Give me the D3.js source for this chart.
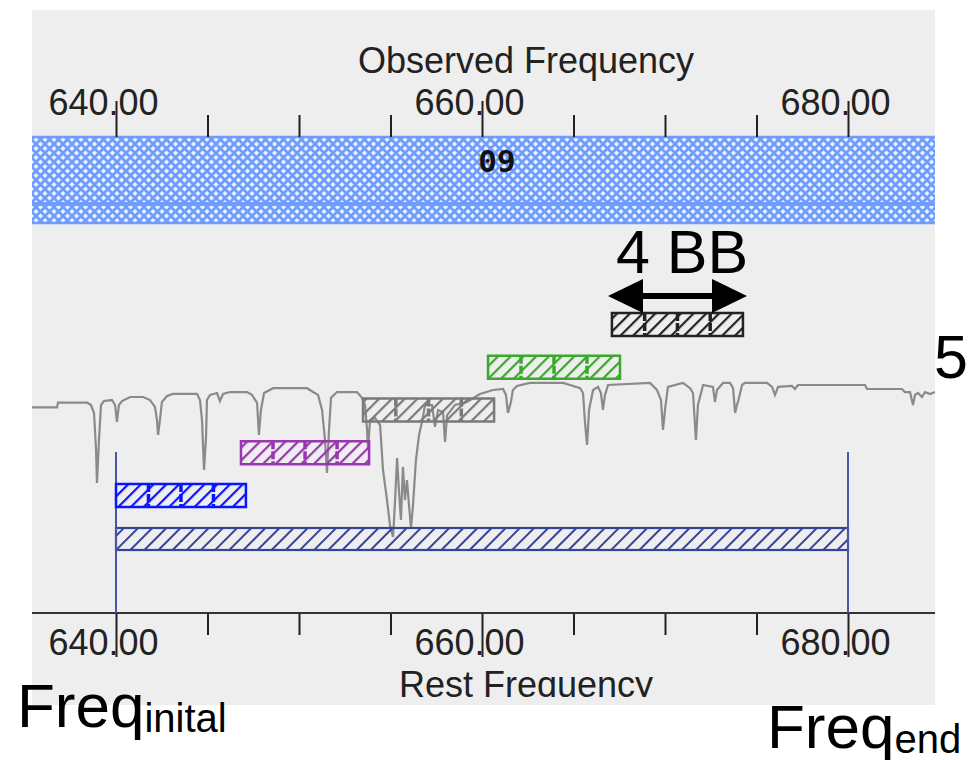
<!DOCTYPE html>
<html>
<head>
<meta charset="utf-8">
<script src="https://cdn.jsdelivr.net/npm/d3@7"></script>
<style>
body { margin: 0; background: #fff; }
svg { display: block; }
.axis-text { font-family: "Liberation Sans", Arial, sans-serif; font-size: 36px; fill: #222; }
.big-text { font-family: "Liberation Sans", Arial, sans-serif; fill: #000; }
</style>
</head>
<body>
<svg id="chart" width="970" height="760"></svg>
<script>
// atmospheric transmission spectrum (rest frequency, GHz / relative transmission)
var specFreq = [635.41, 636.78, 636.83, 638.42, 638.63, 638.80, 638.91, 638.96, 639.07, 639.18,
    639.34, 639.78, 639.95, 640.05, 640.16, 640.33, 640.77, 641.48, 641.86, 642.13,
    642.24, 642.30, 642.40, 642.51, 642.79, 643.11, 644.43, 644.59, 644.70, 644.81,
    644.92, 644.97, 645.14, 645.52, 645.68, 645.85, 646.23, 647.16, 647.43, 647.71,
    647.81, 647.92, 648.09, 648.58, 650.44, 650.77, 651.04, 651.26, 651.42, 651.53,
    651.64, 651.75, 652.08, 653.17, 653.44, 653.61, 653.72, 653.77, 653.88, 654.15,
    654.43, 654.59, 654.81, 654.97, 655.14, 655.25, 655.36, 655.46, 655.57, 655.68,
    655.79, 655.90, 656.01, 656.12, 656.23, 656.39, 656.56, 656.72, 656.89, 657.27,
    657.43, 657.60, 657.87, 657.98, 658.09, 658.52, 659.18, 659.89, 660.60, 661.15,
    661.31, 661.42, 661.58, 661.69, 661.91, 662.62, 664.43, 664.81, 665.36, 665.52,
    665.63, 665.74, 665.85, 666.07, 666.34, 666.50, 666.61, 666.72, 666.89, 669.18,
    669.56, 669.78, 669.89, 670.00, 670.16, 670.98, 671.37, 671.53, 671.69, 671.80,
    672.08, 672.62, 672.73, 672.84, 673.17, 673.55, 673.72, 673.83, 673.93, 673.99,
    674.21, 674.37, 675.57, 675.85, 676.01, 676.18, 676.94, 677.10, 677.27, 680.93,
    681.04, 682.95, 683.11, 683.39, 683.55, 683.66, 683.83, 684.04, 684.21, 684.48,
    684.75];
var specValue = [0.86, 0.86, 0.89, 0.89, 0.875, 0.825, 0.594, 0.388, 0.656, 0.875,
    0.90, 0.906, 0.875, 0.769, 0.875, 0.90, 0.925, 0.925, 0.906, 0.863,
    0.78, 0.688, 0.78, 0.894, 0.931, 0.944, 0.944, 0.906, 0.78, 0.469,
    0.675, 0.906, 0.938, 0.95, 0.90, 0.944, 0.956, 0.956, 0.938, 0.888,
    0.688, 0.844, 0.95, 0.98, 0.98, 0.956, 0.938, 0.844, 0.656, 0.45,
    0.72, 0.92, 0.956, 0.956, 0.92, 0.875, 0.72, 0.594, 0.78, 0.794,
    0.75, 0.469, 0.281, 0.125, 0.05, 0.281, 0.544, 0.344, 0.156, 0.488,
    0.281, 0.406, 0.25, 0.106, 0.25, 0.531, 0.688, 0.769, 0.875, 0.875,
    0.738, 0.844, 0.83, 0.644, 0.81, 0.875, 0.894, 0.944, 0.969, 0.975,
    0.938, 0.825, 0.894, 0.969, 0.994, 1.013, 1.013, 1.0, 0.98, 0.95,
    0.763, 0.625, 0.844, 0.969, 0.988, 0.95, 0.844, 0.938, 1.0, 1.013,
    0.969, 0.906, 0.72, 0.844, 0.988, 1.013, 0.98, 0.95, 0.656, 0.875,
    1.0, 0.988, 0.894, 0.969, 1.013, 1.013, 0.98, 0.825, 0.875, 0.894,
    1.0, 1.013, 1.013, 0.988, 0.938, 0.988, 0.994, 0.975, 1.0, 1.0,
    0.975, 0.975, 0.956, 0.956, 0.875, 0.938, 0.95, 0.925, 0.956, 0.944,
    0.956];

// spectral windows (basebands), one per row
var bbStart = [640.00, 646.83, 653.50, 660.33, 667.10];
var bbEnd   = [647.10, 653.83, 660.66, 667.54, 674.26];
var bbColors = ["#0a14ff", "#9a35b0", "#7a7a7a", "#3aa82a", "#222222"];
var bbChannels = 4;

// full tuning range
var rangeStart = 640;
var rangeEnd = 680;

var tickValues = [640, 645, 650, 655, 660, 665, 670, 675, 680];
var bandLabel = "09";

var svg = d3.select("#chart");
var panel = {left: 32, right: 935, top: 10, bottom: 705};

var x = d3.scaleLinear().domain([640, 680]).range([116, 848]);
var ySpec = d3.scaleLinear().domain([0, 1]).range([545, 385]);
var yRow = d3.scaleLinear().domain([0, 4]).range([484, 313]);
var rowH = 23;

var defs = svg.append("defs");

// cross hatch for the observing band
var cross = defs.append("pattern")
    .attr("id", "cross")
    .attr("patternUnits", "userSpaceOnUse")
    .attr("width", 9).attr("height", 9);
cross.append("rect").attr("width", 9).attr("height", 9).attr("fill", "#eef2fc");
cross.append("path")
    .attr("d", "M0,0 L9,9 M9,0 L0,9")
    .attr("stroke", "#6f9dff")
    .attr("stroke-width", 2.8);

function hatch(id, color, gap, w) {
    var p = defs.append("pattern")
        .attr("id", id)
        .attr("patternUnits", "userSpaceOnUse")
        .attr("width", gap).attr("height", gap)
        .attr("patternTransform", "rotate(45)");
    p.append("line")
        .attr("x1", 1).attr("y1", 0)
        .attr("x2", 1).attr("y2", gap)
        .attr("stroke", color)
        .attr("stroke-width", w);
}
bbColors.forEach(function (c, i) { hatch("hatch" + i, c, 9, 2.4); });
hatch("hatchBase", "#33449a", 10, 2);

// background panel
svg.append("rect")
    .attr("x", panel.left).attr("y", panel.top)
    .attr("width", panel.right - panel.left)
    .attr("height", panel.bottom - panel.top)
    .attr("fill", "#eeeeee");

// observing band
svg.append("rect")
    .attr("x", panel.left).attr("y", 137)
    .attr("width", panel.right - panel.left).attr("height", 87)
    .attr("fill", "url(#cross)");
[137, 204, 223].forEach(function (yy, i) {
    svg.append("line")
        .attr("x1", panel.left).attr("x2", panel.right)
        .attr("y1", yy).attr("y2", yy)
        .attr("stroke", "#6f9dff")
        .attr("stroke-width", i === 1 ? 4 : 2.5);
});
svg.append("text")
    .attr("x", 497).attr("y", 172)
    .style("text-anchor", "middle")
    .style("font-family", "'DejaVu Sans Mono', monospace")
    .style("font-weight", "bold")
    .style("font-size", "31px")
    .attr("fill", "#111")
    .text(bandLabel);

// top axis
var topAxis = svg.append("g")
    .attr("transform", "translate(0,137)")
    .call(d3.axisTop(x).tickValues(tickValues).tickSize(22)
        .tickFormat(function (d) { return d % 20 === 0 ? d3.format(".2f")(d) : ""; }));
topAxis.select(".domain").remove();

// bottom axis
var botAxis = svg.append("g")
    .attr("transform", "translate(0,613)")
    .call(d3.axisBottom(x).tickValues(tickValues).tickSize(22)
        .tickFormat(function (d) { return d % 20 === 0 ? d3.format(".2f")(d) : ""; }));
botAxis.select(".domain").remove();
svg.append("line")
    .attr("x1", panel.left).attr("x2", panel.right)
    .attr("y1", 613).attr("y2", 613)
    .attr("stroke", "#333").attr("stroke-width", 2);

function styleAxis(g, dir) {
    g.selectAll(".tick line")
        .attr("stroke", "#222").attr("stroke-width", 2)
        .attr("y2", function (d) { return d % 20 === 0 ? dir * (dir < 0 ? 36 : 44) : dir * 22; });
    g.selectAll(".tick text")
        .attr("class", "axis-text")
        .attr("dy", 0)
        .attr("y", dir < 0 ? -22 : 42)
        .style("text-anchor", "start")
        .attr("x", function () {
            var s = this.textContent;
            var i = s.indexOf(".");
            if (i < 0) return 0;
            var before = this.getSubStringLength(0, i);
            var dot = this.getSubStringLength(i, 1);
            return -(before + dot / 2) - 3;
        });
}
styleAxis(topAxis, -1);
styleAxis(botAxis, 1);

svg.append("text")
    .attr("class", "axis-text")
    .attr("x", 526).attr("y", 73)
    .style("text-anchor", "middle")
    .text("Observed Frequency");

defs.append("clipPath").attr("id", "clipBottom")
    .append("rect").attr("x", 0).attr("y", 0).attr("width", 970).attr("height", 697);
svg.append("text")
    .attr("class", "axis-text")
    .attr("x", 526).attr("y", 697)
    .attr("clip-path", "url(#clipBottom)")
    .style("text-anchor", "middle")
    .text("Rest Frequency");

// spectrum
var specData = specFreq.map(function (f, i) { return {f: f, v: specValue[i]}; });
svg.append("path")
    .datum(specData)
    .attr("fill", "none")
    .attr("stroke", "#8a8a8a")
    .attr("stroke-width", 2.2)
    .attr("d", d3.line()
        .x(function (d) { return x(d.f); })
        .y(function (d) { return ySpec(d.v); }));

// tuning range
svg.append("rect")
    .attr("x", x(rangeStart)).attr("y", 528)
    .attr("width", x(rangeEnd) - x(rangeStart)).attr("height", 22)
    .attr("fill", "url(#hatchBase)")
    .attr("stroke", "#33449a").attr("stroke-width", 2.2);
[rangeStart, rangeEnd].forEach(function (f) {
    svg.append("line")
        .attr("x1", x(f)).attr("x2", x(f))
        .attr("y1", 452).attr("y2", 613)
        .attr("stroke", "#4a55a8").attr("stroke-width", 2);
});

// spectral windows
bbStart.forEach(function (s, i) {
    var e = bbEnd[i];
    var g = svg.append("g");
    g.append("rect")
        .attr("x", x(s)).attr("y", yRow(i))
        .attr("width", x(e) - x(s)).attr("height", rowH)
        .attr("fill", "url(#hatch" + i + ")")
        .attr("stroke", bbColors[i]).attr("stroke-width", 2.5);
    d3.range(1, bbChannels).forEach(function (k) {
        var f = s + (e - s) * k / bbChannels;
        g.append("line")
            .attr("x1", x(f)).attr("x2", x(f))
            .attr("y1", yRow(i)).attr("y2", yRow(i) + rowH)
            .attr("stroke", bbColors[i]).attr("stroke-width", 3.5)
            .attr("stroke-dasharray", "8,2");
    });
});

// annotations
svg.append("text")
    .attr("class", "big-text")
    .attr("x", 616).attr("y", 273)
    .style("font-size", "61px")
    .text("4 BB");

var ay = 296;
svg.append("line")
    .attr("x1", 630).attr("x2", 725)
    .attr("y1", ay).attr("y2", ay)
    .attr("stroke", "#000").attr("stroke-width", 6);
svg.append("path")
    .attr("d", "M608," + ay + " L643," + (ay - 17) + " L643," + (ay + 17) + " Z")
    .attr("fill", "#000");
svg.append("path")
    .attr("d", "M747," + ay + " L712," + (ay - 17) + " L712," + (ay + 17) + " Z")
    .attr("fill", "#000");

svg.append("text")
    .attr("class", "big-text")
    .attr("x", 934).attr("y", 378)
    .style("font-size", "61px")
    .text("5");

var t1 = svg.append("text")
    .attr("class", "big-text")
    .attr("x", 17).attr("y", 727)
    .style("font-size", "62px");
t1.append("tspan").text("Freq");
t1.append("tspan").attr("dy", 5).style("font-size", "40px").text("inital");

var t2 = svg.append("text")
    .attr("class", "big-text")
    .attr("x", 767).attr("y", 748)
    .style("font-size", "62px");
t2.append("tspan").text("Freq");
t2.append("tspan").attr("dy", 5).style("font-size", "40px").text("end");
</script>
</body>
</html>
